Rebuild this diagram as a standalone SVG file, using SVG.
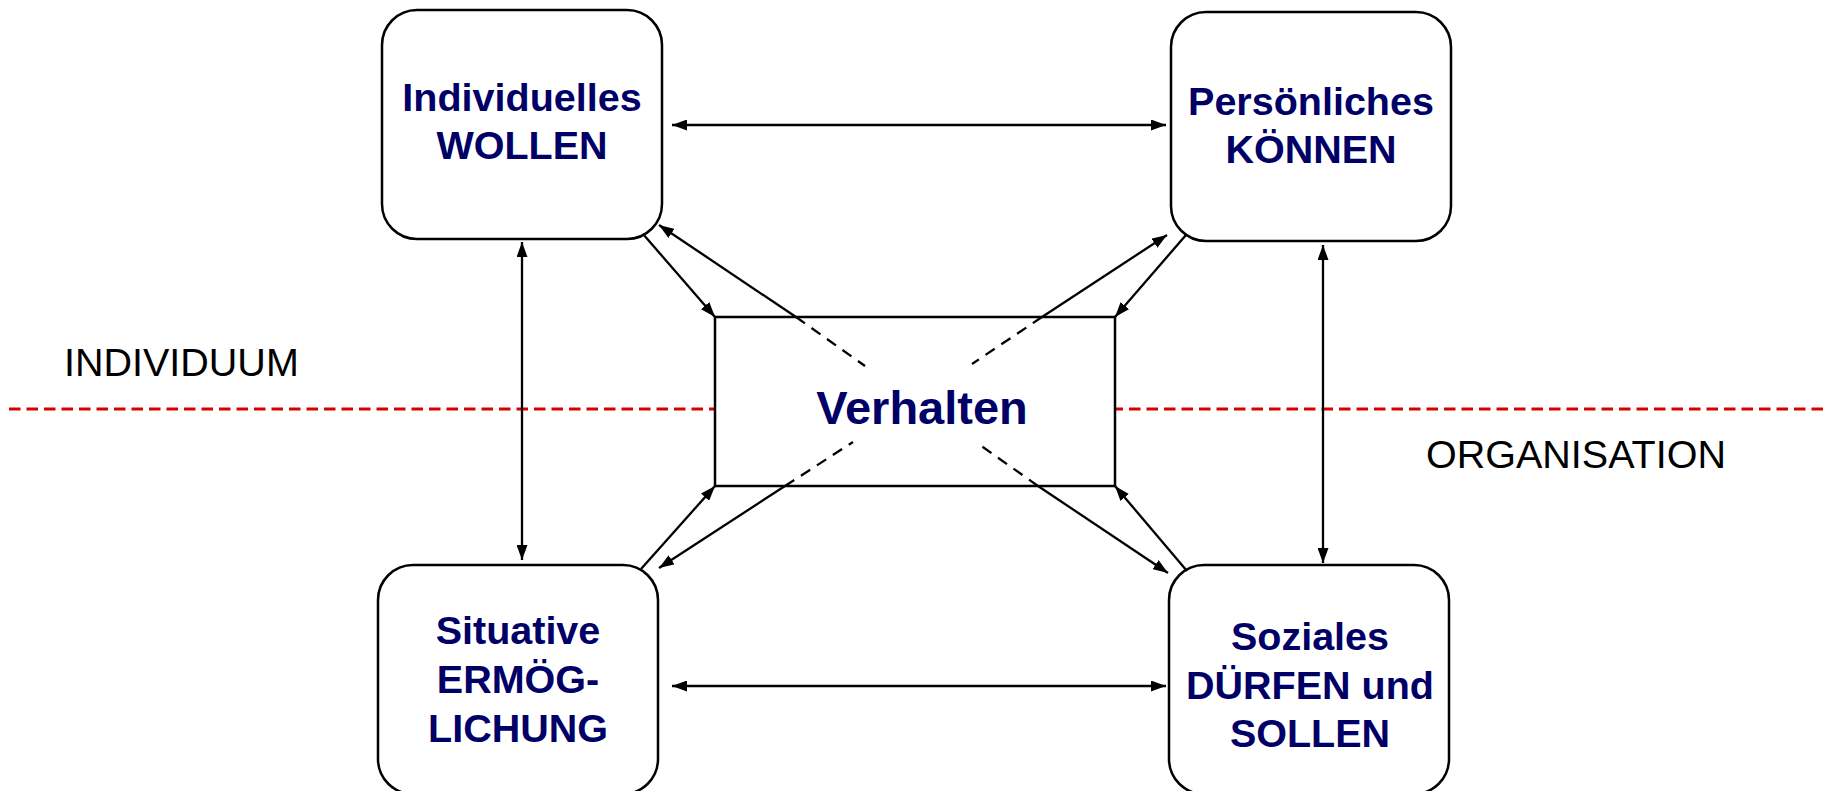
<svg xmlns="http://www.w3.org/2000/svg" width="1827" height="791" viewBox="0 0 1827 791">
<style>
.box{fill:#fff;stroke:#000;stroke-width:2.5}
.nt{font-family:"Liberation Sans",Arial,sans-serif;font-weight:bold;font-size:39.5px;fill:#000066;text-anchor:middle}
.big{font-size:47px}
.lbl{font-family:"Liberation Sans",Arial,sans-serif;font-size:39.5px;fill:#000}
.ln{stroke:#000;stroke-width:2.3;fill:none}
.dash{stroke:#000;stroke-width:2.3;fill:none;stroke-dasharray:11 8}
.red{stroke:#d40000;stroke-width:3;fill:none;stroke-dasharray:11.5 6}
</style>
<defs>
<marker id="ah" viewBox="0 0 15 11" refX="15" refY="5.5" markerWidth="15" markerHeight="11" markerUnits="userSpaceOnUse" orient="auto-start-reverse">
<path d="M0,0 L15,5.5 L0,11 z" fill="#000"/>
</marker>
</defs>
<rect width="1827" height="791" fill="#fff"/>
<g id="divider">
<line class="red" x1="9" y1="409" x2="1827" y2="409"/>
<text class="lbl" x="64" y="376">INDIVIDUUM</text>
<text class="lbl" x="1426" y="468">ORGANISATION</text>
</g>
<g id="verhalten">
<rect class="box" x="715" y="317" width="400" height="169"/>
<text class="nt big" x="922" y="424">Verhalten</text>
</g>
<g id="wollen">
<rect class="box" x="382" y="10" width="280" height="229" rx="35"/>
<text class="nt" x="522" y="111">Individuelles</text>
<text class="nt" x="522" y="159">WOLLEN</text>
</g>
<g id="koennen">
<rect class="box" x="1171" y="12" width="280" height="229" rx="35"/>
<text class="nt" x="1311" y="115">Persönliches</text>
<text class="nt" x="1311" y="163">KÖNNEN</text>
</g>
<g id="ermoeglichung">
<rect class="box" x="378" y="565" width="280" height="229" rx="35"/>
<text class="nt" x="518" y="644">Situative</text>
<text class="nt" x="518" y="693">ERMÖG-</text>
<text class="nt" x="518" y="742">LICHUNG</text>
</g>
<g id="duerfen">
<rect class="box" x="1169" y="565" width="280" height="229" rx="35"/>
<text class="nt" x="1310" y="650">Soziales</text>
<text class="nt" x="1310" y="699">DÜRFEN und</text>
<text class="nt" x="1310" y="747">SOLLEN</text>
</g>
<g id="connectors">
<line class="ln" x1="672" y1="125" x2="1166" y2="125" marker-start="url(#ah)" marker-end="url(#ah)"/>
<line class="ln" x1="672" y1="686" x2="1166" y2="686" marker-start="url(#ah)" marker-end="url(#ah)"/>
<line class="ln" x1="522" y1="242" x2="522" y2="560" marker-start="url(#ah)" marker-end="url(#ah)"/>
<line class="ln" x1="1323" y1="245" x2="1323" y2="563" marker-start="url(#ah)" marker-end="url(#ah)"/>
<line class="ln" x1="643" y1="234" x2="715" y2="317" marker-end="url(#ah)"/>
<line class="ln" x1="1186" y1="235" x2="1115" y2="317" marker-end="url(#ah)"/>
<line class="ln" x1="641" y1="569" x2="715" y2="486" marker-end="url(#ah)"/>
<line class="ln" x1="1187" y1="571" x2="1115" y2="486" marker-end="url(#ah)"/>
<line class="ln" x1="796" y1="317" x2="659" y2="225" marker-end="url(#ah)"/>
<line class="dash" x1="796" y1="317" x2="865" y2="366"/>
<line class="ln" x1="1042" y1="317" x2="1167" y2="235" marker-end="url(#ah)"/>
<line class="dash" x1="1042" y1="317" x2="972" y2="364"/>
<line class="ln" x1="785" y1="486" x2="659" y2="568" marker-end="url(#ah)"/>
<line class="dash" x1="785" y1="486" x2="853" y2="442"/>
<line class="ln" x1="1038" y1="486" x2="1168" y2="573" marker-end="url(#ah)"/>
<line class="dash" x1="1038" y1="486" x2="980" y2="445"/>
</g>
</svg>
